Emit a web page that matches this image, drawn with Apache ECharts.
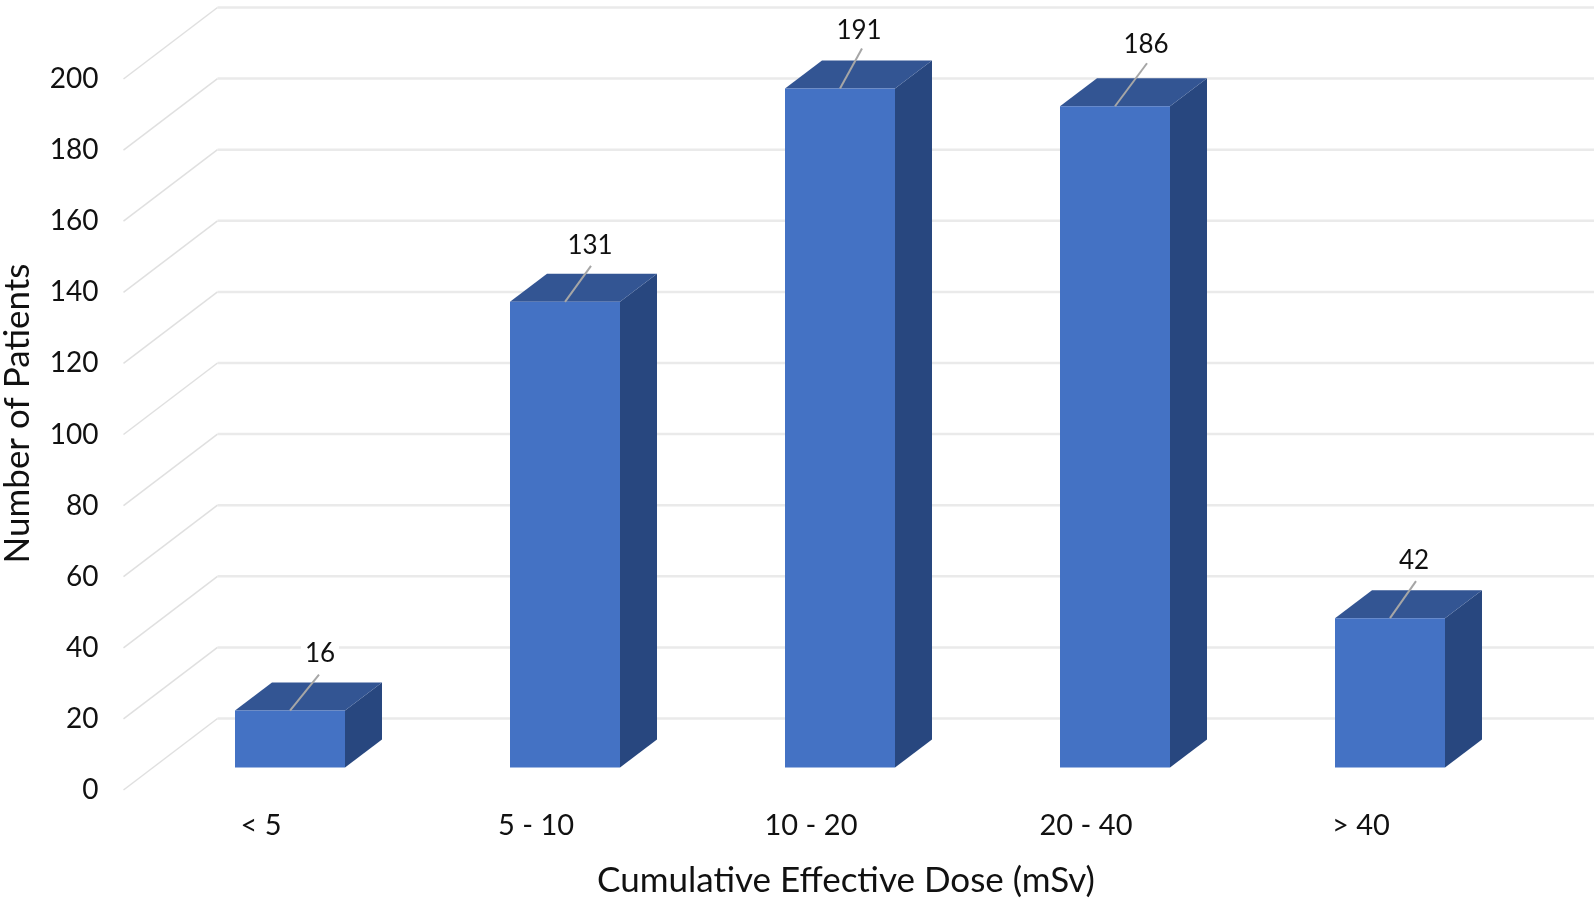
<!DOCTYPE html>
<html>
<head>
<meta charset="utf-8">
<style>html,body{margin:0;padding:0;background:#fff}#c{width:1594px;height:899px;filter:blur(0.4px)}</style>
<script src="https://cdn.jsdelivr.net/npm/echarts@6/dist/echarts.min.js"></script>
</head>
<body>
<div id="c"></div>
<script>
const categories = ['< 5', '5 - 10', '10 - 20', '20 - 40', '> 40'];
const patients = [16, 131, 191, 186, 42];
const wallTicks = [0, 20, 40, 60, 80, 100, 120, 140, 160, 180, 200];

const FONT = 'Lato, "Open Sans", sans-serif';
const wallDepth = { x: 94, y: -71.5 };
const barShift = { x: 29, y: -22.5 };
const barDepth = { x: 37, y: -28 };
const barWidth = 110;
const labelLeader = [[29, -36, 30, -57], [26, -36, 25, -56], [22, -40, 19, -58], [32, -43, 31, -62], [26, -37, 24, -58]];

function renderWall(params, api) {
  const v = api.value(0);
  const y = api.coord([0, v])[1];
  const x = params.coordSys.x;
  return {
    type: 'group',
    children: [
      { type: 'line', shape: { x1: x, y1: y, x2: x + wallDepth.x, y2: y + wallDepth.y },
        style: { stroke: '#e0e0e0', lineWidth: 1.5 } },
      { type: 'line', shape: { x1: x + wallDepth.x, y1: y + wallDepth.y, x2: api.getWidth(), y2: y + wallDepth.y },
        style: { stroke: '#eaeaea', lineWidth: 2.5 } }
    ]
  };
}

function renderBar(params, api) {
  const i = api.value(0);
  const top = api.coord([i, api.value(1)]);
  const base = api.coord([i, 0]);
  const l = top[0] + barShift.x - barWidth / 2;
  const r = l + barWidth;
  const t = top[1] + barShift.y;
  const b = base[1] + barShift.y;
  const dx = barDepth.x, dy = barDepth.y;
  const cx = (l + r) / 2;
  const o = labelLeader[i];
  return {
    type: 'group',
    children: [
      { type: 'polygon', shape: { points: [[r, t], [r + dx, t + dy], [r + dx, b + dy], [r, b]] },
        style: { fill: '#28477f' } },
      { type: 'polygon', shape: { points: [[l, t], [l + dx, t + dy], [r + dx, t + dy], [r, t]] },
        style: { fill: '#335593' } },
      { type: 'rect', shape: { x: l, y: t, width: barWidth, height: b - t },
        style: { fill: '#4472c4' } },
      { type: 'line', shape: { x1: cx, y1: t, x2: cx + o[0], y2: t + o[1] },
        style: { stroke: '#a6a6a6', lineWidth: 2 } },
      { type: 'text', style: { text: String(api.value(1)), x: cx + o[2], y: t + o[3],
          align: 'center', verticalAlign: 'middle', fill: '#111',
          font: '26px ' + FONT, backgroundColor: '#fff', padding: [0, 4] } }
    ]
  };
}

const chart = echarts.init(document.getElementById('c'), null, { renderer: 'canvas' });
chart.setOption({
  animation: false,
  backgroundColor: '#fff',
  grid: { left: 123.5, right: 95.5, top: 79, bottom: 109, outerBoundsMode: 'none' },
  xAxis: {
    type: 'category',
    data: categories,
    axisLine: { show: false },
    axisTick: { show: false },
    axisLabel: { color: '#111', fontFamily: FONT, fontSize: 29, margin: 21, interval: 0 },
    name: 'Cumulative Effective Dose (mSv)',
    nameLocation: 'middle',
    nameGap: 73,
    nameTextStyle: { color: '#111', fontFamily: FONT, fontSize: 35, padding: [0, 0, 0, 70] }
  },
  yAxis: {
    type: 'value',
    min: 0,
    max: 200,
    interval: 20,
    axisLine: { show: false },
    axisTick: { show: false },
    splitLine: { show: false },
    axisLabel: { color: '#111', fontFamily: FONT, fontSize: 28, margin: 25 },
    name: 'Number of Patients',
    nameLocation: 'middle',
    nameGap: 88,
    nameTextStyle: { color: '#111', fontFamily: FONT, fontSize: 35, padding: [0, 0, 0, 42] }
  },
  series: [
    { type: 'custom', silent: true, clip: false, z: 1, renderItem: renderWall,
      encode: { y: 0 }, data: wallTicks.map(v => [v]) },
    { type: 'custom', silent: true, clip: false, z: 2, renderItem: renderBar,
      encode: { x: 0, y: 1 }, data: patients.map((v, i) => [i, v]) }
  ]
});
</script>
</body>
</html>
